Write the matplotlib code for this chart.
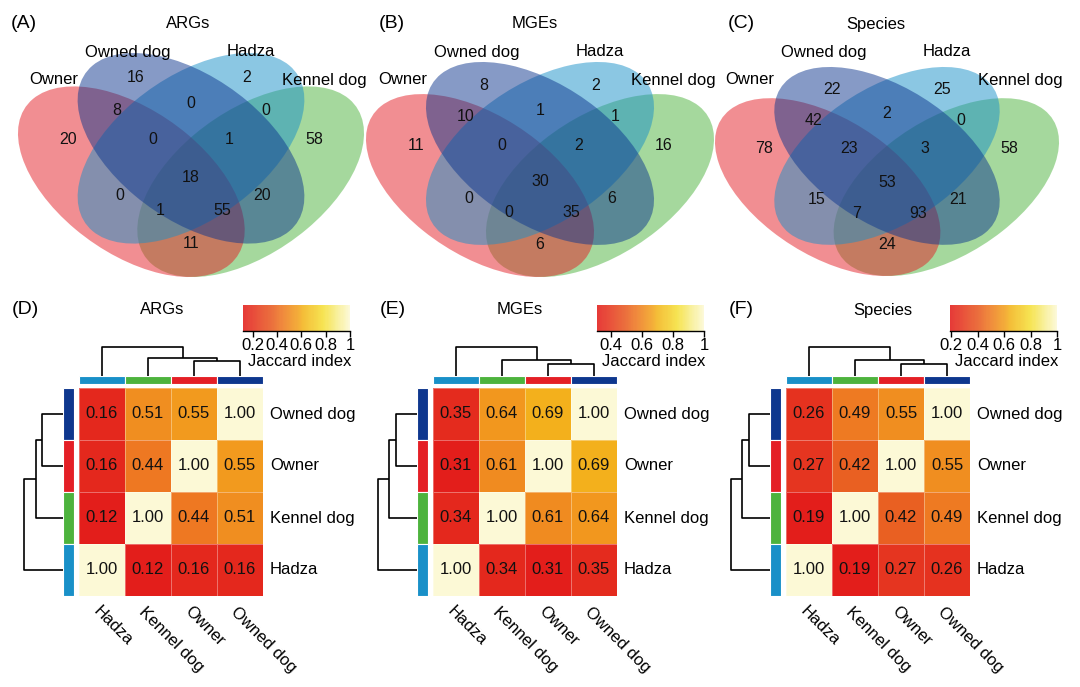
import numpy as np
import matplotlib
matplotlib.use('Agg')
import matplotlib.pyplot as plt
from matplotlib.patches import Ellipse, Rectangle
from matplotlib.colors import LinearSegmentedColormap, Normalize

plt.rcParams['font.family'] = ['Liberation Sans', 'DejaVu Sans']

W, H = 1080, 687

# ---------------- data ----------------
set_names = ['Owner', 'Owned dog', 'Hadza', 'Kennel dog']
venn_titles = ['ARGs', 'MGEs', 'Species']
panel_letters_top = ['(A)', '(B)', '(C)']
panel_letters_bottom = ['(D)', '(E)', '(F)']

# region order: Owner, Owned dog, Hadza, Kennel dog, Ow&Od, Od&H, H&K, Ow&Od&H,
# Od&H&K, all four, Ow&H, Od&K, Ow&H&K, Ow&Od&K, Ow&K
args_counts = [20, 16, 2, 58, 8, 0, 0, 0, 1, 18, 0, 20, 1, 55, 11]
mges_counts = [11, 8, 2, 16, 10, 1, 1, 0, 2, 30, 0, 6, 0, 35, 6]
species_counts = [78, 22, 25, 58, 42, 2, 0, 23, 3, 53, 15, 21, 7, 93, 24]

groups = ['Hadza', 'Kennel dog', 'Owner', 'Owned dog']  # clustered order
args_jaccard = [[1.00, 0.12, 0.16, 0.16],
                [0.12, 1.00, 0.44, 0.51],
                [0.16, 0.44, 1.00, 0.55],
                [0.16, 0.51, 0.55, 1.00]]
mges_jaccard = [[1.00, 0.34, 0.31, 0.35],
                [0.34, 1.00, 0.61, 0.64],
                [0.31, 0.61, 1.00, 0.69],
                [0.35, 0.64, 0.69, 1.00]]
species_jaccard = [[1.00, 0.19, 0.27, 0.26],
                   [0.19, 1.00, 0.42, 0.49],
                   [0.27, 0.42, 1.00, 0.55],
                   [0.26, 0.49, 0.55, 1.00]]

# dendrogram merge heights (relative): (Owner,Owned dog), +Kennel dog, +Hadza
col_heights = [[0.52, 0.63, 1.0], [0.41, 0.55, 1.0], [0.43, 0.55, 1.0]]
row_heights = [[0.55, 0.70, 1.0], [0.55, 0.71, 1.0], [0.55, 0.71, 1.0]]

set_colors = {'Owner': '#E41F26', 'Owned dog': '#0E378E',
              'Hadza': '#1990C8', 'Kennel dog': '#4DB33D'}

cmap = LinearSegmentedColormap.from_list('heat', [
    (0.00, '#E31E1B'), (0.10, '#E53520'), (0.28, '#E95F22'), (0.37, '#EE7A22'),
    (0.49, '#F29A1E'), (0.56, '#F3B41C'), (0.75, '#F5E03A'), (0.88, '#F8EE8C'),
    (1.00, '#FCF9D6')])

# ---------------- helpers ----------------
fig = plt.figure(figsize=(W / 100, H / 100), dpi=100)


def px_axes(x0, y0, x1, y1):
    ax = fig.add_axes([x0 / W, 1 - y1 / H, (x1 - x0) / W, (y1 - y0) / H])
    return ax


def ftext(x, y, s, **kw):
    kw.setdefault('fontsize', 12)
    fig.text(x / W, 1 - y / H, s, **kw)


# ---------------- Venn diagrams ----------------
ell_geom = {'Owner': ((0.35, 0.47), -45), 'Owned dog': ((0.5, 0.57), -45),
            'Hadza': ((0.5, 0.57), 45), 'Kennel dog': ((0.65, 0.47), 45)}
draw_order = ['Kennel dog', 'Owner', 'Hadza', 'Owned dog']
region_pos = [(0.19, 0.595), (0.36, 0.783), (0.64, 0.783), (0.81, 0.595),
              (0.313, 0.684), (0.5, 0.705), (0.687, 0.684), (0.404, 0.595),
              (0.596, 0.595), (0.5, 0.484), (0.321, 0.43), (0.679, 0.43),
              (0.422, 0.385), (0.578, 0.385), (0.5, 0.286)]
venn_boxes = [(18, 364, 53, 277), (366, 714, 62, 277), (715, 1059, 67, 276)]
venn_title_x = [188.5, 534.5, 876]
letter_top_x = [24, 392, 741]
label_off = {'Owner': (-137, 80), 'Owned dog': (-63, 52),
             'Hadza': (60, 52), 'Kennel dog': (133, 80)}

for k, counts in enumerate([args_counts, mges_counts, species_counts]):
    L, R, T, B = venn_boxes[k]
    sx = (R - L) / 0.87
    sy = (B - T) / 0.67
    lp = L - 0.065 * sx
    tp = T - (1 - 0.855) * sy
    ax = px_axes(lp, tp, lp + sx, tp + sy)
    ax.set_xlim(0, 1)
    ax.set_ylim(0, 1)
    ax.axis('off')
    for name in draw_order:
        c, ang = ell_geom[name]
        ax.add_patch(Ellipse(c, 0.7, 0.4, angle=ang, facecolor=set_colors[name],
                             edgecolor='none', alpha=0.5))
    for v, (x, y) in zip(counts, region_pos):
        ax.text(x, y, str(v), ha='center', va='center', fontsize=11.5, color='#111111')
    cx = (L + R) / 2
    for name in set_names:
        dx, y = label_off[name]
        ftext(cx + dx, y, name, ha='center', va='center')
    ftext(venn_title_x[k], 24, venn_titles[k], ha='center', va='center')
    ftext(letter_top_x[k], 24, panel_letters_top[k], ha='center', va='center', fontsize=14)

# ---------------- Heatmaps ----------------
hxs = [79, 433, 786]
heat_title_x = [162, 520, 883]
letter_bot_x = [25, 393, 741]
cw, ch = 46, 52
top = 388

for k, J in enumerate([args_jaccard, mges_jaccard, species_jaccard]):
    J = np.array(J)
    hx = hxs[k]
    vmin = J.min()
    norm = Normalize(vmin=vmin, vmax=1.0)
    disp = J[::-1, :]  # rows: Owned dog at top
    row_names = groups[::-1]

    ax = px_axes(hx, top, hx + 4 * cw, top + 4 * ch)
    ax.pcolormesh(np.arange(5), np.arange(5), disp, cmap=cmap, norm=norm,
                  edgecolors=(1, 1, 1, 0.35), linewidth=0.6)
    ax.set_xlim(0, 4)
    ax.set_ylim(4, 0)
    ax.axis('off')
    for i in range(4):
        for j in range(4):
            ax.text(j + 0.5, i + 0.5, f'{disp[i, j]:.2f}', ha='center', va='center',
                    fontsize=12, color='#111111')
    for i, name in enumerate(row_names):
        ftext(hx + 191, top + ch * (i + 0.5), name, ha='left', va='center')
    for j, name in enumerate(groups):
        ftext(hx + cw * (j + 0.5) - 1, 604, name, ha='left', va='top',
              rotation=-45, rotation_mode='anchor')

    # annotation bars
    at = px_axes(hx, 376, hx + 4 * cw, 384)
    for j, name in enumerate(groups):
        at.add_patch(Rectangle((j, 0), 1, 1, facecolor=set_colors[name],
                               edgecolor='white', lw=0.8))
    at.set_xlim(0, 4)
    at.set_ylim(0, 1)
    at.axis('off')
    al = px_axes(hx - 16, top, hx - 5, top + 4 * ch)
    for i, name in enumerate(row_names):
        al.add_patch(Rectangle((0, i), 1, 1, facecolor=set_colors[name],
                               edgecolor='white', lw=0.8))
    al.set_xlim(0, 1)
    al.set_ylim(4, 0)
    al.axis('off')

    # column dendrogram
    h1, h2, h3 = col_heights[k]
    ad = px_axes(hx, 347, hx + 4 * cw, 376)
    segs = [([2.5, 2.5, 3.5, 3.5], [0, h1, h1, 0]),
            ([1.5, 1.5, 3.0, 3.0], [0, h2, h2, h1]),
            ([0.5, 0.5, 2.25, 2.25], [0, h3, h3, h2])]
    for xs, ys in segs:
        ad.plot(xs, ys, color='black', lw=1.2, clip_on=False, solid_capstyle='butt')
    ad.set_xlim(0, 4)
    ad.set_ylim(0, 1)
    ad.axis('off')

    # row dendrogram
    r1, r2, r3 = row_heights[k]
    ar = px_axes(hx - 55, top, hx - 16, top + 4 * ch)
    segs = [([0, r1, r1, 0], [0.5, 0.5, 1.5, 1.5]),
            ([0, r2, r2, r1], [2.5, 2.5, 1.0, 1.0]),
            ([0, r3, r3, r2], [3.5, 3.5, 1.75, 1.75])]
    for xs, ys in segs:
        ar.plot(xs, ys, color='black', lw=1.2, clip_on=False, solid_capstyle='butt')
    ar.set_xlim(1, 0)
    ar.set_ylim(4, 0)
    ar.axis('off')

    # colour bar
    cb = px_axes(hx + 164, 305, hx + 271, 331)
    edges = np.linspace(vmin, 1.0, 101)
    mids = (edges[:-1] + edges[1:]) / 2
    cb.pcolormesh(edges, [0, 1], mids[None, :], cmap=cmap, norm=norm, alpha=0.88,
                  edgecolors='none', linewidth=0)
    cb.set_xlim(vmin, 1.0)
    cb.set_ylim(0, 1)
    ticks = [t for t in [0.2, 0.4, 0.6, 0.8, 1.0] if t >= vmin - 1e-9]
    cb.set_xticks(ticks)
    cb.set_xticklabels([f'{t:g}' for t in ticks])
    cb.set_yticks([])
    for s in ['top', 'left', 'right']:
        cb.spines[s].set_visible(False)
    cb.spines['bottom'].set_linewidth(1.0)
    cb.tick_params(axis='x', direction='out', length=4.5, width=1, labelsize=12, pad=0.5)
    ftext(hx + 272, 362, 'Jaccard index', ha='right', va='center')

    ftext(heat_title_x[k], 310, venn_titles[k], ha='center', va='center')
    ftext(letter_bot_x[k], 309, panel_letters_bottom[k], ha='center', va='center', fontsize=14)

fig.savefig('out.png', dpi=100)
